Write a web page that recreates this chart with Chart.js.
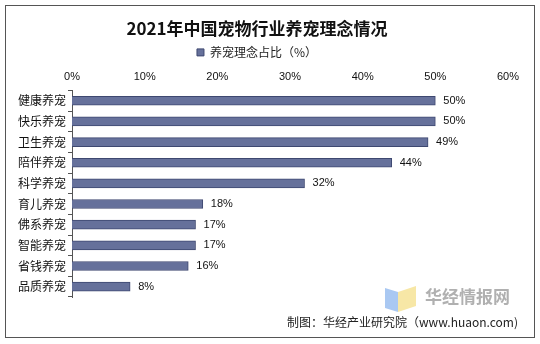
<!DOCTYPE html>
<html>
<head>
<meta charset="utf-8">
<script src="https://cdn.jsdelivr.net/npm/chart.js@4/dist/chart.umd.min.js"></script>
<style>
  html, body { margin: 0; padding: 0; background: #fff; }
  #wrap { width: 540px; height: 344px; }
</style>
</head>
<body>
<div id="wrap"><canvas id="ideaChart" width="540" height="344"></canvas></div>
<script>
const categories = ['健康养宠', '快乐养宠', '卫生养宠', '陪伴养宠', '科学养宠', '育儿养宠', '佛系养宠', '智能养宠', '省钱养宠', '品质养宠'];
const shares = [50, 50, 49, 44, 32, 18, 17, 17, 16, 8];
const xTicks = [0, 10, 20, 30, 40, 50, 60];

const cjk = '"Noto Sans CJK SC", sans-serif';
const latin = '"Liberation Sans", Arial, sans-serif';

// frame, watermark and source note
const decor = {
    id: 'decor',
    beforeDraw(chart) {
        const c = chart.ctx;
        c.save();
        c.fillStyle = '#ffffff';
        c.fillRect(0, 0, chart.width, chart.height);
        c.restore();
    },
    afterDraw(chart) {
        const c = chart.ctx;
        c.save();
        c.strokeStyle = '#555555';
        c.lineWidth = 1;
        c.strokeRect(5.5, 5.5, 529, 332);

        // watermark logo
        c.fillStyle = '#a9c8f2';
        c.beginPath();
        c.moveTo(385, 288); c.lineTo(398, 292); c.lineTo(398, 312); c.lineTo(385, 308);
        c.closePath(); c.fill();
        c.fillStyle = '#f7e7a6';
        c.beginPath();
        c.moveTo(398, 292); c.lineTo(416, 286); c.lineTo(416, 306); c.lineTo(398, 312);
        c.closePath(); c.fill();
        c.fillStyle = '#b0b0b0';
        c.font = 'bold 17px ' + cjk;
        c.textBaseline = 'middle';
        c.fillText('华经情报网', 425, 297);

        c.fillStyle = '#222222';
        c.font = '12px ' + cjk;
        c.textAlign = 'right';
        c.fillText('制图：华经产业研究院（www.huaon.com)', 518, 322);
        c.restore();
    }
};

// value labels at the bar ends
const valueLabels = {
    id: 'valueLabels',
    afterDatasetsDraw(chart) {
        const c = chart.ctx;
        const meta = chart.getDatasetMeta(0);
        c.save();
        c.fillStyle = '#111111';
        c.font = '11px ' + latin;
        c.textBaseline = 'middle';
        meta.data.forEach((bar, i) => {
            c.fillText(shares[i] + '%', bar.x + 8, bar.y);
        });
        c.restore();
    }
};

const ctx = document.getElementById('ideaChart').getContext('2d');
const ideaChart = new Chart(ctx, {
    type: 'bar',
    data: {
        labels: categories,
        datasets: [{
            label: '养宠理念占比（%）',
            data: shares,
            backgroundColor: '#66719b',
            borderColor: '#3e4870',
            borderWidth: 1,
            barThickness: 9
        }]
    },
    options: {
        indexAxis: 'y',
        responsive: false,
        animation: false,
        layout: {padding: {left: 6, right: 32, top: 10, bottom: 47}},
        plugins: {
            title: {
                display: true,
                text: '2021年中国宠物行业养宠理念情况',
                color: '#111111',
                font: {family: cjk, size: 17, weight: 'bold'},
                padding: {top: 8, bottom: 2}
            },
            legend: {
                display: true,
                labels: {
                    boxWidth: 7,
                    boxHeight: 7,
                    padding: 6,
                    color: '#222222',
                    font: {family: cjk, size: 12}
                }
            },
            tooltip: {enabled: false}
        },
        scales: {
            x: {
                position: 'top',
                min: 0,
                max: 60,
                afterBuildTicks(scale) {
                    scale.ticks = xTicks.map(v => ({value: v}));
                },
                afterFit(scale) { scale.height = 22; },
                grid: {display: false, drawTicks: false},
                border: {display: false},
                ticks: {
                    color: '#111111',
                    font: {family: latin, size: 11},
                    padding: 7,
                    callback: v => v + '%'
                }
            },
            y: {
                afterFit(scale) { scale.width = 66; },
                grid: {drawOnChartArea: false, offset: true, tickLength: 4, color: '#555555'},
                border: {display: true, color: '#555555'},
                ticks: {
                    color: '#111111',
                    font: {family: cjk, size: 12},
                    padding: 2
                }
            }
        }
    },
    plugins: [decor, valueLabels]
});
</script>
</body>
</html>
